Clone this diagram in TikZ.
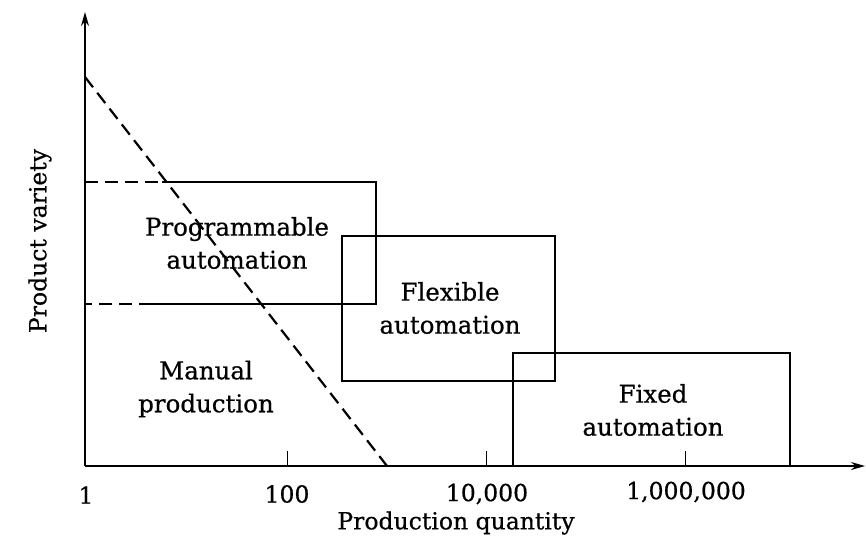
\documentclass[tikz,border=0pt]{standalone}
\usepackage{fontspec}
\setmainfont{DejaVu Serif}
\newfontfamily\plotfont[FakeBold=0.6]{DejaVu Serif}
\usetikzlibrary{positioning, arrows.meta}

\begin{document}
\begin{tikzpicture}[
    x=1pt, y=-1pt,
    every node/.style={align=center, inner sep=0pt},
    axis/.style={-{Stealth[length=14pt, width=8pt]}, line width=1.7pt},
    edge/.style={line width=2.2pt},
    border/.style={line width=2.2pt, dash pattern=on 13pt off 7pt},
    zone/.style={font=\plotfont\fontsize{24.5}{33}\selectfont},
    ticklabel/.style={font=\plotfont\fontsize{23.5}{27}\selectfont}
]
\useasboundingbox (0,0) rectangle (866,538);

% axes
\coordinate (O) at (85,466);
\coordinate (ytop) at (85,12);
\coordinate (xend) at (865,466);
\draw[axis] (O) -- (ytop);
\draw[axis] (O) -- (xend);

% ticks and their values
\foreach \x/\nm in {287/b, 486/c, 685/d} {
    \coordinate (t\nm) at (\x,451);
    \draw[line width=1pt] (t\nm) -- (\x,466);
}
\node[ticklabel] (q1) at (86,495) {1};
\node[ticklabel] (q2) at (287,494) {100};
\node[ticklabel] (q3) at (487,494) {10,000};
\node[ticklabel] (q4) at (686,492) {1,000,000};

\node[ticklabel] (xlab) at (456,523) {Production quantity};
\node[ticklabel, rotate=90] (ylab) at (40,241) {Product variety};

% manual / programmable boundary
\coordinate (d0) at (85,77);
\coordinate (d1) at (387,466);
\draw[border] (d0) -- (d1);

% programmable automation
\coordinate (p0) at (85,182);
\coordinate (p1) at (162,182);
\coordinate (p2) at (376,182);
\coordinate (p3) at (376,304);
\coordinate (p4) at (152,304);
\coordinate (p5) at (85,304);
\draw[border] (p0) -- (p1);
\draw[edge] (p1) -- (p2) -- (p3) -- (p4);
\draw[border] (p4) -- (p5);
\node[zone] (prog) at (237,243) {Programmable\\automation};

% flexible automation
\coordinate (f0) at (342,236);
\coordinate (f1) at (555,381);
\draw[edge] (f0) rectangle (f1);
\node[zone] (flex) at (450,308) {Flexible\\automation};

% fixed automation
\coordinate (x0) at (513,353);
\coordinate (x1) at (790,466);
\draw[edge] (x0) rectangle (x1);
\node[zone] (fixed) at (653,410) {Fixed\\automation};

% manual production
\node[zone] (manual) at (206,389) {Manual\\production};

\end{tikzpicture}
\end{document}
